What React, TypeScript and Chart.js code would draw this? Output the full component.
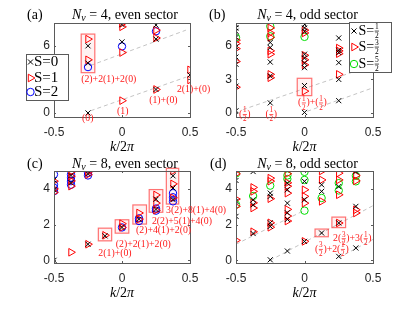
import { useEffect, useRef } from "react";
import { Chart, registerables } from "chart.js";

Chart.register(...registerables);

type Pt = [number, number];
type Seg4 = [number, number, number, number];
type Lbl = [string, number, number];

const W = 415;
const H = 312;
const SERIF = '"Liberation Serif", "DejaVu Serif", "Times New Roman", serif';
const SANS = '"Liberation Sans", Arial, Helvetica, sans-serif';

const X_TICKS = [-0.5, 0, 0.5];
const Y_TICKS_NV4 = [0, 3, 6];
const Y_TICKS_NV8 = [0, 2, 4];

// ---------- (a) N_v = 4, even sector ----------
const A_S0: Pt[] = [
  [-0.25, 0], [-0.25, 4.45], [-0.25, 6.0], [0, 6.35], [0, 7.9],
  [0.25, 2.1], [0.25, 6.6], [0.25, 7.85], [0.5, 3.4],
];
const A_S1: Pt[] = [
  [-0.25, 4.75], [-0.25, 6.6], [0, 1.1], [0, 5.4], [0, 7.7], [0, 8.0],
  [0.25, 2.1], [0.25, 6.7], [0.25, 7.4], [0.5, 2.95], [0.5, 3.85],
];
const A_S2: Pt[] = [[-0.25, 4.1], [0, 5.95], [0.25, 7.3]];
const A_LINES: Seg4[] = [[-0.23, 0.2, 0.47, 3.2], [-0.23, 4.25, 0.47, 7.4]];
const A_BOXES: Seg4[] = [[-0.3, 3.6, -0.2, 7.05]];
const A_LABELS: Lbl[] = [
  ["(0)", -0.294, -0.47],
  ["(1)", -0.037, 0.12],
  ["(1)+(0)", 0.2, 1.16],
  ["2(1)+(0)", 0.404, 2.12],
  ["(2)+2(1)+2(0)", -0.3, 3.04],
];

// ---------- (b) N_v = 4, odd sector ----------
const B_SHALF: Pt[] = [
  [-0.5, 7.9], [-0.5, 7.6], [-0.5, 7.3], [-0.5, 6.75], [-0.5, 5.9], [-0.5, 5.0], [-0.5, 4.35], [-0.5, 2.4], [-0.5, 0.2],
  [-0.25, 6.3], [-0.25, 5.85], [-0.25, 4.55], [-0.25, 3.3], [-0.25, 0.9],
  [0, 7.9], [0, 7.6], [0, 7.3], [0, 5.25], [0, 4.9], [0, 4.45], [0, 4.05], [0, 2.45], [0, 0.05],
  [0.25, 6.7], [0.25, 5.6], [0.25, 5.4], [0.25, 4.5], [0.25, 3.0], [0.25, 1.1],
];
const B_S3HALF: Pt[] = [
  [-0.5, 6.5], [-0.5, 6.2], [-0.5, 5.75], [-0.5, 4.6], [-0.5, 2.3],
  [-0.25, 7.6], [-0.25, 7.15], [-0.25, 6.75], [-0.25, 5.55], [-0.25, 5.25], [-0.25, 3.45], [-0.25, 3.15],
  [0, 7.4], [0, 7.15], [0, 5.15], [0, 4.75], [0, 4.3], [0, 1.95],
  [0.25, 5.8], [0.25, 5.55], [0.25, 5.3], [0.25, 3.45],
];
const B_S5HALF: Pt[] = [[-0.5, 6.75], [-0.25, 7.75], [-0.25, 6.85], [0, 6.8]];
const B_LINES: Seg4[] = [[-0.45, 0.3, 0.5, 4.27], [0.02, 0.15, 0.5, 2.25]];
const B_BOXES: Seg4[] = [[-0.053, 1.55, 0.053, 3.1]];
const B_LABELS: Lbl[] = [
  ["(1/2)", -0.478, -0.12],
  ["(1/2)", -0.285, -0.12],
  ["(1/2)+(1/2)", -0.047, 0.9],
];

// ---------- (c) N_v = 8, even sector ----------
const C_S0: Pt[] = [
  [-0.5, 0], [-0.25, 0.9], [-0.125, 1.37], [0, 1.84], [0.125, 2.3],
  [0.25, 3.42], [0.25, 2.85], [0.375, 4.73], [0.375, 4.05], [0.375, 3.4],
  [-0.5, 4.5], [-0.5, 3.95], [-0.375, 4.35], [-0.375, 4.75], [-0.25, 4.85],
];
const C_S1: Pt[] = [
  [-0.375, 0.45], [-0.25, 0.9], [-0.125, 1.4], [0, 2.05], [0, 1.84],
  [0.125, 2.65], [0.125, 2.3], [0.25, 3.66], [0.25, 3.2], [0.25, 2.8],
  [0.375, 5.0], [0.375, 4.28], [0.375, 3.5],
  [-0.5, 4.43], [-0.5, 4.0], [-0.5, 3.8], [-0.375, 4.95], [-0.375, 4.71], [-0.375, 4.45], [-0.375, 4.15],
  [-0.25, 4.8], [-0.25, 4.95],
];
const C_S2: Pt[] = [
  [0, 1.84], [0.125, 2.35], [0.125, 2.2], [0.25, 2.9], [0.25, 2.78],
  [0.375, 3.76], [0.375, 3.53], [0.375, 3.3],
  [-0.5, 4.81], [-0.5, 4.24], [-0.5, 4.06], [-0.5, 3.87],
  [-0.375, 4.81], [-0.375, 4.62], [-0.375, 4.43], [-0.375, 4.23],
  [-0.25, 4.9], [-0.25, 4.75],
];
const C_LINES: Seg4[] = [];
const C_BOXES: Seg4[] = [
  [-0.174, 1.09, -0.076, 1.8],
  [-0.05, 1.52, 0.05, 2.27],
  [0.08, 2.03, 0.18, 3.1],
  [0.2, 2.69, 0.3, 3.96],
  [0.326, 3.15, 0.417, 5.15],
];
const C_LABELS: Lbl[] = [
  ["2(1)+(0)", -0.174, 0.38],
  ["(2)+2(1)+2(0)", -0.046, 0.88],
  ["(2)+4(1)+2(0)", 0.103, 1.69],
  ["2(2)+5(1)+4(0)", 0.22, 2.17],
  ["3(2)+8(1)+4(0)", 0.324, 2.79],
];

// ---------- (d) N_v = 8, odd sector ----------
const D_SHALF: Pt[] = [
  [-0.5, 4.47], [-0.5, 3.3], [-0.5, 2.46],
  [-0.375, 4.97], [-0.375, 3.39], [-0.375, 3.11], [-0.375, 1.5],
  [-0.25, 3.76], [-0.25, 3.58], [-0.25, 2.1], [-0.25, 1.9], [-0.25, 0.03],
  [-0.125, 4.32], [-0.125, 3.95], [-0.125, 3.2], [-0.125, 2.66], [-0.125, 2.29], [-0.125, 0.52],
  [0, 4.42], [0, 3.39], [0, 1.06],
  [0.125, 4.23], [0.125, 3.86], [0.125, 1.53],
  [0.25, 4.13], [0.25, 2.09], [0.25, 0.22],
  [0.375, 4.97], [0.375, 3.02], [0.375, 0.69],
];
const D_S3HALF: Pt[] = [
  [-0.5, 4.84], [-0.5, 3.43], [-0.5, 3.02], [-0.5, 1.12],
  [-0.375, 4.08], [-0.375, 3.86], [-0.375, 3.22], [-0.375, 2.93], [-0.375, 1.6],
  [-0.25, 4.6], [-0.25, 4.43], [-0.25, 3.45], [-0.25, 2.1], [-0.25, 1.85],
  [-0.125, 4.85], [-0.125, 4.34], [-0.125, 4.15], [-0.125, 3.76], [-0.125, 2.85], [-0.125, 2.48], [-0.125, 2.2],
  [0, 3.95], [0, 3.58], [0, 3.2], [0, 1.06],
  [0.125, 5.0], [0.125, 4.5], [0.125, 3.3],
  [0.25, 4.88], [0.25, 4.5], [0.25, 3.67], [0.25, 2.09],
  [0.375, 4.75], [0.375, 4.45], [0.375, 2.83], [0.375, 2.65],
];
const D_S5HALF: Pt[] = [
  [-0.5, 4.86], [-0.5, 3.12], [-0.375, 3.6], [-0.25, 4.18],
  [-0.125, 4.75], [-0.125, 4.55], [0, 4.95], [0, 4.5], [0, 2.78],
  [0.125, 3.49], [0.25, 4.32], [0.25, 3.91], [0.375, 4.73], [0.375, 4.42],
];
const D_LINES: Seg4[] = [[-0.5, 0.9, 0.0, 2.8], [-0.25, 0.0, 0.5, 3.06], [0.25, 0.15, 0.5, 1.17]];
const D_BOXES: Seg4[] = [[0.077, 1.32, 0.174, 1.75], [0.2, 1.83, 0.3, 2.42]];
const D_LABELS: Lbl[] = [
  ["2(3/2)+3(1/2)", 0.208, 1.21],
  ["(3/2)+2(1/2)", 0.077, 0.62],
];

// ---------- styles ----------
type Kind = "x" | "tri" | "circB" | "circG";
const STYLES: Record<Kind, { pointStyle: string; rotation: number; radius: number; color: string }> = {
  x: { pointStyle: "crossRot", rotation: 0, radius: 3.6, color: "#000000" },
  tri: { pointStyle: "triangle", rotation: 90, radius: 4.4, color: "#ff0000" },
  circB: { pointStyle: "circle", rotation: 0, radius: 3.7, color: "#0000ff" },
  circG: { pointStyle: "circle", rotation: 0, radius: 3.7, color: "#00dd00" },
};

type Panel = {
  id: string;
  area: { l: number; t: number; r: number; b: number };
  ylim: [number, number];
  yTicks: number[];
  series: { data: Pt[]; kind: Kind }[];
  lines: Seg4[];
  boxes: Seg4[];
  labels: Lbl[];
  tag: string;
  tagX: number;
  titleY: number;
  nv: string;
  sector: string;
  legend?: { x: number; y: number; w: number; h: number; iconX: number; textX: number; size: number; rows: [Kind, number, string][] };
};

const PANELS: Panel[] = [
  {
    id: "a", area: { l: 54, t: 23, r: 190, b: 117 }, ylim: [-0.36, 8.04], yTicks: Y_TICKS_NV4,
    series: [{ data: A_S0, kind: "x" }, { data: A_S1, kind: "tri" }, { data: A_S2, kind: "circB" }],
    lines: A_LINES, boxes: A_BOXES, labels: A_LABELS, tag: "(a)", tagX: 27, titleY: 15, nv: "4", sector: "even",
    legend: { x: 26, y: 54, w: 42, h: 46, iconX: 30.5, textX: 34, size: 15, rows: [["x", 62, "S=0"], ["tri", 78, "S=1"], ["circB", 92, "S=2"]] },
  },
  {
    id: "b", area: { l: 236, t: 23, r: 373, b: 117 }, ylim: [-0.36, 8.04], yTicks: Y_TICKS_NV4,
    series: [{ data: B_SHALF, kind: "x" }, { data: B_S3HALF, kind: "tri" }, { data: B_S5HALF, kind: "circG" }],
    lines: B_LINES, boxes: B_BOXES, labels: B_LABELS, tag: "(b)", tagX: 209, titleY: 15, nv: "4", sector: "odd",
    legend: { x: 349, y: 22, w: 42, h: 50, iconX: 354, textX: 358.5, size: 14, rows: [["x", 31, "S=1/2"], ["tri", 47, "S=3/2"], ["circG", 64, "S=5/2"]] },
  },
  {
    id: "c", area: { l: 54, t: 171, r: 190, b: 263 }, ylim: [-0.15, 5.0], yTicks: Y_TICKS_NV8,
    series: [{ data: C_S0, kind: "x" }, { data: C_S1, kind: "tri" }, { data: C_S2, kind: "circB" }],
    lines: C_LINES, boxes: C_BOXES, labels: C_LABELS, tag: "(c)", tagX: 27, titleY: 164, nv: "8", sector: "even",
  },
  {
    id: "d", area: { l: 236, t: 171, r: 373, b: 263 }, ylim: [-0.15, 5.0], yTicks: Y_TICKS_NV8,
    series: [{ data: D_SHALF, kind: "x" }, { data: D_S3HALF, kind: "tri" }, { data: D_S5HALF, kind: "circG" }],
    lines: D_LINES, boxes: D_BOXES, labels: D_LABELS, tag: "(d)", tagX: 210, titleY: 164, nv: "8", sector: "odd",
  },
];

// ---------- rich text ----------
type RSeg = { t: string; size: number; italic?: boolean; dy?: number } | { num: string; den: string; size: number };

function fontOf(size: number, italic?: boolean) {
  return `${italic ? "italic " : ""}${size}px ${SERIF}`;
}

function segWidth(ctx: CanvasRenderingContext2D, s: RSeg) {
  if ("t" in s) {
    ctx.font = fontOf(s.size, s.italic);
    return ctx.measureText(s.t).width;
  }
  ctx.font = fontOf(s.size);
  return Math.max(ctx.measureText(s.num).width, ctx.measureText(s.den).width) + 1.5;
}

function drawRich(ctx: CanvasRenderingContext2D, segs: RSeg[], x: number, y: number, align: "left" | "center") {
  const widths = segs.map((s) => segWidth(ctx, s));
  const total = widths.reduce((a, b) => a + b, 0);
  let cx = align === "center" ? x - total / 2 : x;
  ctx.textBaseline = "middle";
  segs.forEach((s, i) => {
    const w = widths[i];
    if ("t" in s) {
      ctx.textAlign = "left";
      ctx.font = fontOf(s.size, s.italic);
      ctx.fillText(s.t, cx, y + (s.dy || 0));
    } else {
      ctx.textAlign = "center";
      ctx.font = fontOf(s.size);
      ctx.fillText(s.num, cx + w / 2, y - s.size * 0.55);
      ctx.fillText(s.den, cx + w / 2, y + s.size * 0.68);
      ctx.fillRect(cx + 0.5, y - 0.3, w - 1, 0.7);
    }
    cx += w;
  });
  ctx.textAlign = "left";
}

function parseLabel(str: string, size: number, fracSize: number): RSeg[] {
  const out: RSeg[] = [];
  const re = /(\d)\/(\d)/g;
  let last = 0;
  let m: RegExpExecArray | null;
  while ((m = re.exec(str))) {
    if (m.index > last) out.push({ t: str.slice(last, m.index), size });
    out.push({ num: m[1], den: m[2], size: fracSize });
    last = re.lastIndex;
  }
  if (last < str.length) out.push({ t: str.slice(last), size });
  return out;
}

function drawMarker(ctx: CanvasRenderingContext2D, kind: Kind, x: number, y: number) {
  const st = STYLES[kind];
  ctx.save();
  ctx.strokeStyle = st.color;
  ctx.lineWidth = 1;
  ctx.beginPath();
  if (kind === "x") {
    const d = st.radius * Math.SQRT1_2;
    ctx.moveTo(x - d, y - d); ctx.lineTo(x + d, y + d);
    ctx.moveTo(x - d, y + d); ctx.lineTo(x + d, y - d);
  } else if (kind === "tri") {
    const r = st.radius;
    ctx.moveTo(x + r, y);
    ctx.lineTo(x - r / 2, y + r * 0.866);
    ctx.lineTo(x - r / 2, y - r * 0.866);
    ctx.closePath();
  } else {
    ctx.arc(x, y, st.radius, 0, Math.PI * 2);
  }
  ctx.stroke();
  ctx.restore();
}

function fmt(v: number) {
  if (Math.abs(v) < 1e-9) return "0";
  return String(v);
}

function overlay(p: Panel) {
  return {
    id: "overlay_" + p.id,
    beforeDatasetsDraw(chart: any) {
      const { ctx } = chart;
      const xs = chart.scales.x;
      const ys = chart.scales.y;
      const X = (v: number) => xs.getPixelForValue(v);
      const Y = (v: number) => ys.getPixelForValue(v);
      ctx.save();
      ctx.strokeStyle = "#c4c4c4";
      ctx.lineWidth = 1;
      ctx.setLineDash([4, 3]);
      for (const [k1, e1, k2, e2] of p.lines) {
        ctx.beginPath();
        ctx.moveTo(X(k1), Y(e1));
        ctx.lineTo(X(k2), Y(e2));
        ctx.stroke();
      }
      ctx.setLineDash([]);
      for (const [k1, e1, k2, e2] of p.boxes) {
        const x1 = X(k1), x2 = X(k2), y1 = Y(e2), y2 = Y(e1);
        ctx.fillStyle = "rgba(255,0,0,0.05)";
        ctx.fillRect(x1, y1, x2 - x1, y2 - y1);
        ctx.strokeStyle = "rgba(255,40,40,0.65)";
        ctx.lineWidth = 1.2;
        ctx.strokeRect(x1, y1, x2 - x1, y2 - y1);
      }
      ctx.restore();
    },
    afterDraw(chart: any) {
      const { ctx, chartArea } = chart;
      const xs = chart.scales.x;
      const ys = chart.scales.y;
      const X = (v: number) => xs.getPixelForValue(v);
      const Y = (v: number) => ys.getPixelForValue(v);
      const { left, right, top, bottom } = chartArea;
      ctx.save();
      // frame
      ctx.strokeStyle = "#5a5a5a";
      ctx.lineWidth = 1;
      ctx.strokeRect(Math.round(left) + 0.5, Math.round(top) + 0.5, Math.round(right - left), Math.round(bottom - top));
      // inner ticks
      ctx.beginPath();
      for (const v of X_TICKS) {
        const px = Math.round(X(v)) + 0.5;
        ctx.moveTo(px, bottom); ctx.lineTo(px, bottom - 2);
        ctx.moveTo(px, top); ctx.lineTo(px, top + 2);
      }
      for (const v of p.yTicks) {
        const py = Math.round(Y(v)) + 0.5;
        ctx.moveTo(left, py); ctx.lineTo(left + 2, py);
        ctx.moveTo(right, py); ctx.lineTo(right - 2, py);
      }
      ctx.stroke();
      // red annotations
      ctx.fillStyle = "#ff1a1a";
      for (const [txt, k, e] of p.labels) {
        drawRich(ctx, parseLabel(txt, 9.8, 7.2), X(k), Y(e), "left");
      }
      // title
      ctx.fillStyle = "#000";
      drawRich(ctx, [{ t: p.tag, size: 14 }], p.tagX, p.titleY, "left");
      drawRich(
        ctx,
        [
          { t: "N", size: 14, italic: true },
          { t: "v", size: 10, italic: true, dy: 3 },
          { t: ` = ${p.nv}, ${p.sector} sector`, size: 14 },
        ],
        (left + right) / 2 + 3,
        p.titleY,
        "center"
      );
      // x label
      drawRich(
        ctx,
        [
          { t: "k", size: 14, italic: true },
          { t: "/2", size: 14 },
          { t: "\u03c0", size: 14, italic: true },
        ],
        (left + right) / 2,
        bottom + 30,
        "center"
      );
      // legend
      if (p.legend) {
        const L = p.legend;
        ctx.fillStyle = "#fff";
        ctx.fillRect(L.x, L.y, L.w, L.h);
        ctx.strokeStyle = "#5a5a5a";
        ctx.lineWidth = 1;
        ctx.strokeRect(L.x + 0.5, L.y + 0.5, L.w, L.h);
        for (const [kind, ry, txt] of L.rows) {
          drawMarker(ctx, kind, L.iconX, ry);
          ctx.fillStyle = "#000";
          drawRich(ctx, parseLabel(txt, L.size, 7.5), L.textX, ry, "left");
        }
      }
      ctx.restore();
    },
  };
}

function PanelChart({ p }: { p: Panel }) {
  const ref = useRef<HTMLCanvasElement>(null);
  useEffect(() => {
    if (!ref.current) return;
    const YW = 30;
    const XH = 30;
    const datasets = p.series.map((s) => {
      const st = STYLES[s.kind];
      return {
        label: s.kind,
        data: s.data.map(([x, y]) => ({ x, y })),
        pointStyle: st.pointStyle as any,
        pointRotation: st.rotation,
        pointRadius: st.radius,
        borderColor: st.color,
        backgroundColor: "rgba(0,0,0,0)",
        pointBorderWidth: 1,
        borderWidth: 1,
        showLine: false,
      };
    });
    const chart = new Chart(ref.current, {
      type: "scatter",
      data: { datasets },
      options: {
        responsive: false,
        maintainAspectRatio: false,
        animation: false,
        events: [],
        layout: {
          padding: { left: p.area.l - YW, top: p.area.t, right: W - p.area.r, bottom: H - p.area.b - XH },
        },
        plugins: { legend: { display: false }, tooltip: { enabled: false }, title: { display: false } },
        scales: {
          x: {
            type: "linear",
            position: "bottom",
            min: -0.5,
            max: 0.5,
            grid: { display: false, drawTicks: false },
            border: { display: false },
            afterBuildTicks: (s: any) => {
              s.ticks = X_TICKS.map((v) => ({ value: v }));
            },
            afterFit: (s: any) => {
              s.height = XH;
            },
            ticks: {
              autoSkip: false,
              maxRotation: 0,
              padding: 8,
              color: "#262626",
              font: { family: SANS, size: 12 },
              callback: (v: any) => fmt(Number(v)),
            },
          },
          y: {
            type: "linear",
            position: "left",
            min: p.ylim[0],
            max: p.ylim[1],
            grid: { display: false, drawTicks: false },
            border: { display: false },
            afterBuildTicks: (s: any) => {
              s.ticks = p.yTicks.map((v) => ({ value: v }));
            },
            afterFit: (s: any) => {
              s.width = YW;
            },
            ticks: {
              autoSkip: false,
              padding: 4,
              color: "#262626",
              font: { family: SANS, size: 12 },
              callback: (v: any) => fmt(Number(v)),
            },
          },
        },
      } as any,
      plugins: [overlay(p) as any],
    });
    return () => chart.destroy();
  }, [p]);
  return (
    <canvas
      ref={ref}
      width={W}
      height={H}
      style={{ position: "absolute", left: 0, top: 0, width: W, height: H }}
    />
  );
}

export default function App() {
  return (
    <div style={{ position: "absolute", left: 0, top: 0, width: W, height: H, background: "#fff", overflow: "hidden" }}>
      {PANELS.map((p) => (
        <PanelChart key={p.id} p={p} />
      ))}
    </div>
  );
}
